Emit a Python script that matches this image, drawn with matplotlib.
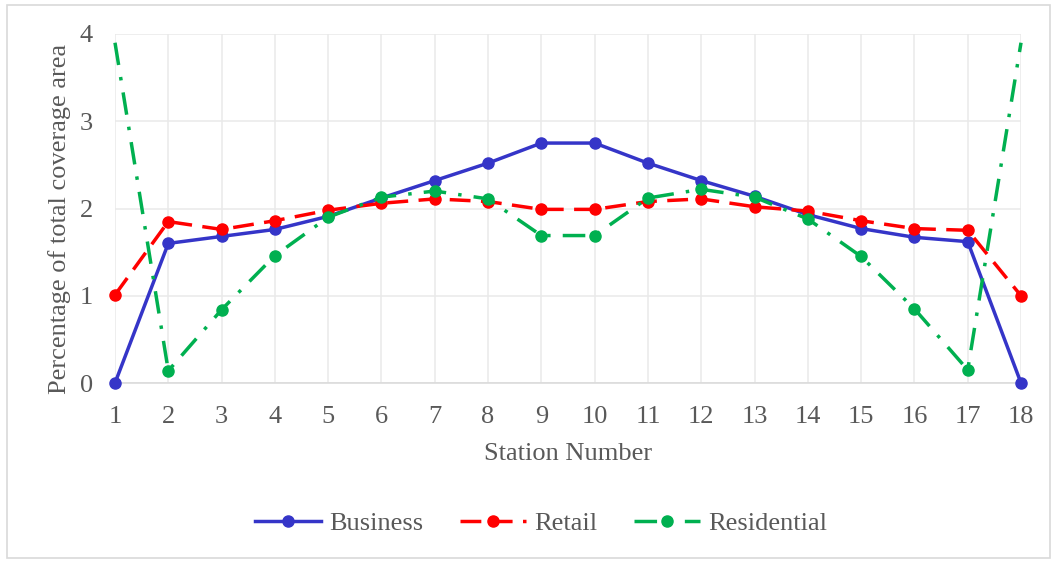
import matplotlib.pyplot as plt
from matplotlib.patches import Rectangle

plt.rcParams['font.family'] = ['Liberation Serif', 'DejaVu Serif']

stations = list(range(1, 19))
business = [0.00, 1.60, 1.68, 1.76, 1.91, 2.12, 2.32, 2.52, 2.75,
            2.75, 2.52, 2.32, 2.14, 1.93, 1.77, 1.67, 1.62, 0.00]
retail = [1.01, 1.85, 1.76, 1.86, 1.98, 2.06, 2.11, 2.08, 1.99,
          1.99, 2.08, 2.11, 2.02, 1.97, 1.86, 1.77, 1.75, 1.00]
residential = [3.90, 0.14, 0.84, 1.46, 1.90, 2.13, 2.20, 2.11, 1.69,
               1.69, 2.12, 2.22, 2.13, 1.88, 1.45, 0.85, 0.15, 3.90]

text_color = '#595959'
grid_color = '#e9e9e9'

fig = plt.figure(figsize=(10.57, 5.63), dpi=100)
ax = fig.add_axes([115 / 1057, 1 - 383 / 563, (1021 - 115) / 1057, (383 - 34) / 563])

# outer chart border
fig.patches.append(Rectangle((7 / 1057, 5 / 563), 1043 / 1057, 553 / 563,
                             transform=fig.transFigure, fill=False,
                             edgecolor='#d9d9d9', linewidth=1.2))

ax.plot(stations, business, color='#3535c8', linewidth=2.5, marker='o',
        markersize=8, label='Business', clip_on=False, zorder=3)
ax.plot(stations, retail, color='#ff0000', linewidth=2.5, marker='o',
        markersize=8, dashes=(6, 3), label='Retail', clip_on=False, zorder=3)
ax.plot(stations, residential, color='#00b050', linewidth=2.5, marker='o',
        markersize=8, markevery=list(range(1, 17)), dashes=(6.5, 3.5, 1, 3.5),
        label='Residential', clip_on=False, zorder=3)

ax.set_xlim(1, 18)
ax.set_ylim(0, 4)
ax.set_xticks(stations)
ax.set_yticks([0, 1, 2, 3, 4])
ax.grid(True, color=grid_color, linewidth=1.1)
ax.set_axisbelow(True)
for side in ['top', 'right', 'left']:
    ax.spines[side].set_visible(False)
ax.spines['bottom'].set_color('#d9d9d9')
ax.spines['bottom'].set_linewidth(1.1)
ax.tick_params(length=0, labelsize=19, colors=text_color)
ax.tick_params(axis='x', pad=16.5)
ax.tick_params(axis='y', pad=16)

ax.set_xlabel('Station Number', fontsize=19, color=text_color, labelpad=11)
ax.set_ylabel('Percentage of total coverage area', fontsize=19, color=text_color)
ax.yaxis.set_label_coords(-0.049, 0.47)

leg = fig.legend(loc='center', bbox_to_anchor=(541 / 1057, 1 - 523 / 563), ncol=3,
                 frameon=False, fontsize=19, handlelength=2.5,
                 columnspacing=1.4, handletextpad=0.3)
for t in leg.get_texts():
    t.set_color(text_color)

fig.savefig('out.png', dpi=100)
